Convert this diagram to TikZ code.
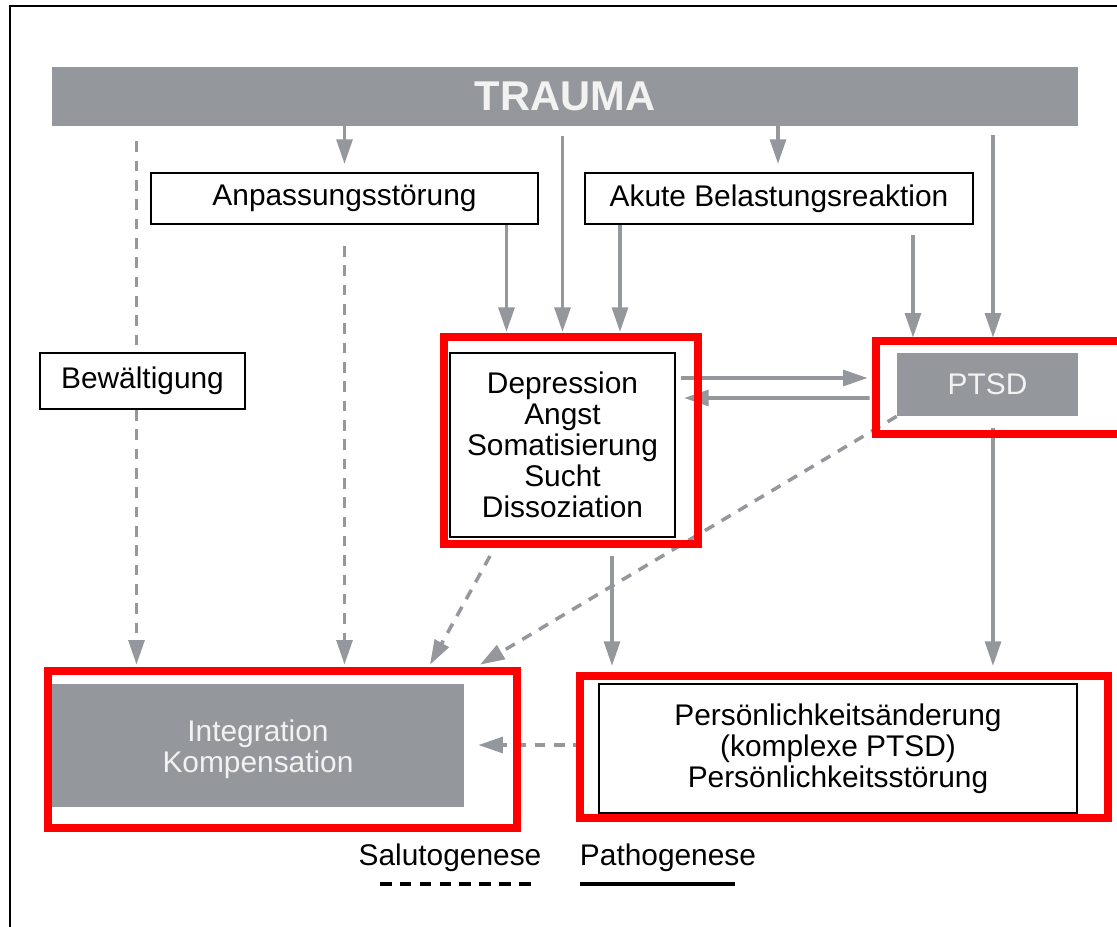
\documentclass[tikz,border=0pt]{standalone}
\usepackage{fontspec}
\setmainfont{Liberation Sans}
\usepackage{tikz}
\usetikzlibrary{positioning, arrows.meta, calc}
\definecolor{boxgray}{HTML}{94979C}
\definecolor{marked}{HTML}{FF0000}

\begin{document}
\begin{tikzpicture}[x=0.02cm, y=-0.02cm,
  every node/.style={font=\fontsize{17}{17.6}\selectfont, align=center, inner sep=0pt},
  whitebox/.style={draw=black, line width=1.2pt, fill=white},
  graybox/.style={fill=boxgray, text=white!95!black},
  arr/.style={draw=boxgray, line width=2pt, -{Triangle[length=14pt,width=9pt]}},
  dashline/.style={draw=boxgray, line width=2pt, dash pattern=on 6pt off 5pt},
  dasharr/.style={arr, dash pattern=on 6pt off 5pt},
  redframe/.style={draw=marked, line width=4pt}]
\useasboundingbox (0,0) rectangle (1117,927);
\clip (0,0) rectangle (1117,927);
% frame
\draw[line width=1.7pt] (10,940) -- (10,6) -- (1130,6);

% boxes
\node[graybox, minimum width=20.52cm, minimum height=1.18cm,
  font=\fontsize{23.7}{26}\selectfont\bfseries] (trauma) at (565,96.5) {TRAUMA};
\node[whitebox, minimum width=7.74cm, minimum height=1.02cm] (anp) at (344.5,198.5) {Anpassungsst\"orung};
\node[whitebox, minimum width=7.76cm, minimum height=1.02cm] (akut) at (779,198.5) {Akute Belastungsreaktion};
\node[whitebox, minimum width=4.1cm, minimum height=1.12cm] (bew) at (142.5,381) {Bew\"altigung};
\node[whitebox, minimum width=4.5cm, minimum height=3.68cm] (dep) at (562.5,445)
  {Depression\\Angst\\Somatisierung\\Sucht\\Dissoziation};
\node[graybox, minimum width=8.24cm, minimum height=2.46cm] (integ) at (258,745.5)
  {\rule{0pt}{17pt}Integration\\Kompensation};
\node[graybox, minimum width=3.62cm, minimum height=1.26cm] (ptsd) at (987.5,384.5) {PTSD};
\node[whitebox, minimum width=9.56cm, minimum height=2.58cm] (pers) at (838,748.5)
  {Pers\"onlichkeits\"anderung\\(komplexe PTSD)\\Pers\"onlichkeitsst\"orung};

% tips
\coordinate (tA) at ($(anp.north)+(0,-8)$);
\coordinate (tB) at ($(akut.north)+(-1,-8)$);
\coordinate (d1) at ($(dep.north)+(-56,-20)$);
\coordinate (d2) at ($(dep.north)+(57.5,-20)$);
\coordinate (p1) at ($(ptsd.north)+(-74.5,-15)$);
\coordinate (p2) at ($(ptsd.north)+(5.5,-15)$);
\coordinate (q1) at ($(dep.south)+(49.5,18)$);
\coordinate (q2) at ($(ptsd.south)+(5.5,12)$);
\coordinate (b1) at ($(bew.north)+(-6,0)$);

% pathogenese
\draw[arr] (trauma.south -| tA) -- (tA);
\draw[arr] (trauma.south -| tB) -- (tB);
\draw[arr] ($(trauma.south -| dep.north)+(0,10)$) -- ($(dep.north)+(0,-20)$);
\draw[arr] (anp.south -| d1) -- (d1);
\draw[arr] (akut.south -| d2) -- (d2);
\draw[arr] ($(akut.south -| p1)+(0,10)$) -- (p1);
\draw[arr] ($(trauma.south -| p2)+(0,9)$) -- (p2);
\draw[arr] ($(dep.east)+(5,-67)$) -- ($(ptsd.west)+(-29,-6.5)$);
\draw[arr] ($(ptsd.west)+(-27,13.5)$) -- ($(dep.east)+(8,-47)$);
\draw[arr] (q1) -- ($(pers.north -| q1)+(0,-17)$);
\draw[arr] (q2) -- ($(pers.north -| q2)+(0,-17)$);

% salutogenese
\draw[dashline] ($(trauma.south -| b1)+(0,15)$) -- (bew.north -| b1);
\draw[dasharr] (bew.south -| b1) -- ($(integ.north -| b1)+(0,-19)$);
\draw[dasharr] ($(anp.south)+(0,21)$) -- ($(integ.north -| anp.south)+(0,-19)$);
\draw[dasharr] ($(dep.south)+(-72.5,18)$) -- ($(integ.north)+(172,-19)$);
\draw[dasharr] (ptsd.south west) -- ($(integ.north)+(222,-19)$);
\draw[dasharr] ($(pers.west)+(-14,-3.5)$) -- ($(integ.east)+(14,-0.5)$);

% markings
\draw[redframe] (444,337) rectangle (698,544);
\draw[redframe] (876,341) rectangle (1130,434);
\draw[redframe] (48,671) rectangle (517,828);
\draw[redframe] (580,676) rectangle (1108,818);

% legend
\node (salu) at (450,858) {Salutogenese};
\node (patho) at (668,858) {Pathogenese};
\draw[line width=2.3pt, dash pattern=on 6.6pt off 4.7pt] ($(salu.center)+(-70,26)$) -- ($(salu.center)+(88,26)$);
\draw[line width=1.8pt] ($(patho.center)+(-88,26)$) -- ($(patho.center)+(67,26)$);
\end{tikzpicture}
\end{document}
